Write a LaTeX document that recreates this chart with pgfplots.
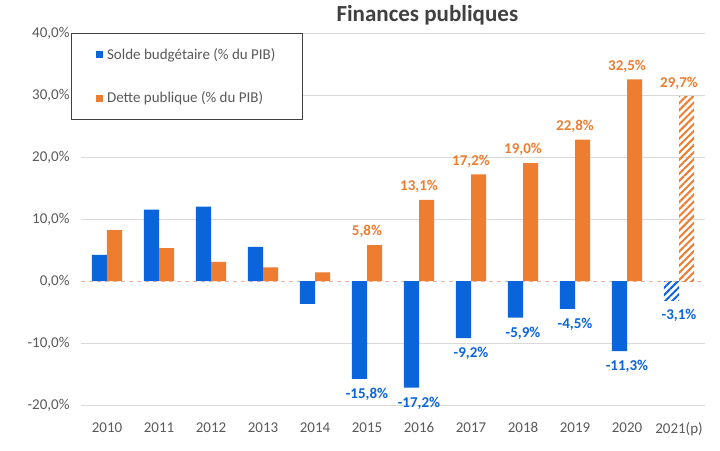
\documentclass[border=0pt]{standalone}
\usepackage{pgfplots}
\pgfplotsset{compat=1.18}
\usetikzlibrary{patterns.meta}
\usepackage{fontspec}
\setmainfont{Carlito}
\definecolor{cblue}{HTML}{0A64DC}
\definecolor{corange}{HTML}{ED7D31}
\definecolor{tgray}{HTML}{595959}
\definecolor{ttl}{HTML}{404040}
\definecolor{zline}{HTML}{F2B4A0}
\newcommand\fs{\fontsize{15}{17}\selectfont}
\begin{document}
\begin{tikzpicture}
\path[use as bounding box] (-81pt,-45pt) rectangle (639pt,405pt);
\begin{axis}[
  at={(0pt,0pt)}, anchor=south west, scale only axis,
  width=624pt, height=372pt,
  xmin=-0.5, xmax=11.5, ymin=-20, ymax=40,
  xtick={0,...,11},
  xticklabels={2010,2011,2012,2013,2014,2015,2016,2017,2018,2019,2020,2021(p)},
  ytick={-20,-10,10,20,30,40},
  extra y ticks={0},
  extra y tick style={grid style={dash pattern=on 4pt off 4pt, zline, line width=1pt}},
  ymajorgrids,
  grid style={color=black!15, line width=0.8pt},
  axis line style={draw=none},
  major tick length=0pt,
  tick style={draw=none},
  ticklabel style={font=\fs, color=tgray},
  /pgf/number format/assume math mode=true,
  yticklabel={\pgfmathprintnumber[fixed,fixed zerofill,precision=1,use comma]{\tick}\%},
  yticklabel style={xshift=-8pt},
  xticklabel style={yshift=-14pt},
  title={Finances publiques},
  title style={at={(0.555,1)}, anchor=base, yshift=5pt, font=\bfseries\fontsize{23}{26}\selectfont, color=ttl},
  legend style={at={(-0.0165,1)}, anchor=north west, draw=black!75, line width=0.8pt,
    font=\fs, text=tgray, inner xsep=25pt, inner ysep=13pt, row sep=27pt,
    /tikz/every odd column/.style={column sep=2pt}},
  legend cell align=left,
  nodes near coords={\pgfmathprintnumber[fixed,fixed zerofill,precision=1,use comma]{\pgfplotspointmeta}\%},
  every node near coord/.append style={font=\bfseries\fs, inner sep=7pt},
]
% Legend-bearing series (2010-2014), no labels
\addplot[ybar, bar width=0.29, bar shift=-0.145, fill=cblue, draw=none, nodes near coords={},
  legend image code/.code={\fill[cblue] (0pt,-3.5pt) rectangle (7pt,3.5pt);}]
  coordinates {(0,4.2) (1,11.5) (2,12.0) (3,5.5) (4,-3.7)};
\addlegendentry{Solde budgétaire (\% du PIB)}
\addplot[ybar, bar width=0.29, bar shift=0.145, fill=corange, draw=none, nodes near coords={},
  legend image code/.code={\fill[corange] (0pt,-3.5pt) rectangle (7pt,3.5pt);}]
  coordinates {(0,8.2) (1,5.3) (2,3.1) (3,2.2) (4,1.4)};
\addlegendentry{Dette publique (\% du PIB)}
% Labelled series 2015-2020
\addplot[ybar, bar width=0.29, bar shift=-0.145, fill=cblue, draw=none, forget plot,
  every node near coord/.append style={color=cblue, inner sep=9pt}]
  coordinates {(5,-15.8) (6,-17.2) (7,-9.2) (8,-5.9) (9,-4.5) (10,-11.3)};
\addplot[ybar, bar width=0.29, bar shift=0.145, fill=corange, draw=none, forget plot,
  every node near coord/.append style={color=corange}]
  coordinates {(5,5.8) (6,13.1) (7,17.2) (8,19.0) (9,22.8) (10,32.5)};
% 2021 forecast (hatched)
\addplot[ybar, bar width=0.29, bar shift=-0.145, draw=none, forget plot,
  pattern={Lines[angle=45,distance=5pt,line width=2pt]}, pattern color=cblue,
  every node near coord/.append style={color=cblue, inner sep=9pt}]
  coordinates {(11,-3.1)};
\addplot[ybar, bar width=0.29, bar shift=0.145, draw=none, forget plot,
  pattern={Lines[angle=45,distance=5pt,line width=2pt]}, pattern color=corange,
  every node near coord/.append style={color=corange}]
  coordinates {(11,29.7)};
\end{axis}
\end{tikzpicture}
\end{document}
